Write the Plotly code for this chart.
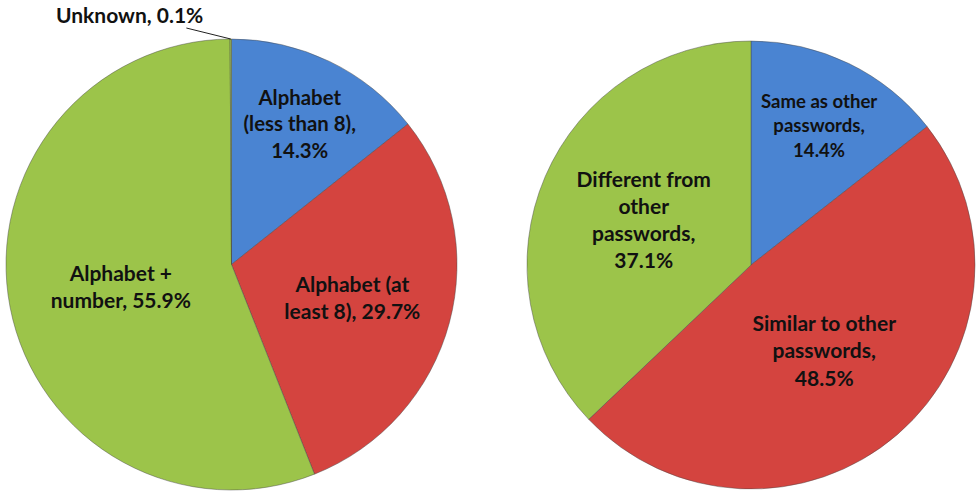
import math
import plotly.graph_objects as go

# Data
left_categories = ["Alphabet (less than 8)", "Alphabet (at least 8)", "Alphabet + number", "Unknown"]
left_text = ["Alphabet<br>(less than 8),<br>", "Alphabet (at<br>least 8), ", "Alphabet +<br>number, ", "Unknown, "]
left_values = [14.3, 29.7, 55.9, 0.1]

right_categories = ["Same as other passwords", "Similar to other passwords", "Different from other passwords"]
right_text = ["Same as other<br>passwords,<br>", "Similar to other<br>passwords,<br>", "Different from<br>other<br>passwords,<br>"]
right_values = [14.4, 48.5, 37.1]

colors = ["#4a84d2", "#d4443f", "#9cc44a"]
left_colors = colors + ["#9cc44a"]

W, H = 977, 493
left_dom = dict(x=[6 / W, 457 / W], y=[(H - 490) / H, (H - 39) / H])
right_dom = dict(x=[527 / W, 975 / W], y=[(H - 489) / H, (H - 41) / H])

font = dict(family="Lato", size=21, color="#111111", weight="bold")
edge = dict(color="rgba(70,70,70,0.45)", width=1)

fig = go.Figure()
fig.add_trace(go.Pie(
    labels=left_categories, values=left_values, text=left_text,
    texttemplate="%{text}%{percent:.1%}",
    textposition=["inside", "inside", "inside", "none"],
    insidetextorientation="horizontal",
    sort=False, direction="clockwise", rotation=0,
    marker=dict(colors=left_colors, line=edge),
    textfont=font, domain=left_dom, showlegend=False, hoverinfo="label+percent",
))
fig.add_trace(go.Pie(
    labels=right_categories, values=right_values, text=right_text,
    texttemplate="%{text}%{percent:.1%}",
    textposition="inside",
    insidetextorientation="horizontal",
    sort=False, direction="clockwise", rotation=0,
    marker=dict(colors=colors, line=edge),
    textfont=font, domain=right_dom, showlegend=False, hoverinfo="label+percent",
))

# Leader-line label for the tiny "Unknown" slice, placed at the slice's mid-angle
total = sum(left_values)
frac_mid = (sum(left_values[:3]) + left_values[3] / 2) / total
theta = math.pi / 2 - 2 * math.pi * frac_mid  # clockwise from 12 o'clock
cx = (left_dom["x"][0] + left_dom["x"][1]) / 2
cy = (left_dom["y"][0] + left_dom["y"][1]) / 2
r_px = (left_dom["x"][1] - left_dom["x"][0]) * W / 2
px = cx + r_px * math.cos(theta) / W
py = cy + r_px * math.sin(theta) / H
fig.add_annotation(
    x=px, y=py, xref="paper", yref="paper",
    text="Unknown, %.1f%%" % left_values[3],
    showarrow=True, arrowhead=0, arrowwidth=1, arrowcolor="#222222",
    ax=-101, ay=-25, font=font,
)

fig.update_layout(
    width=W, height=H, margin=dict(l=0, r=0, t=0, b=0),
    paper_bgcolor="white", plot_bgcolor="white",
)
fig.write_html("out.html", config={"displayModeBar": False},
               post_script="document.body.style.margin='0';")
